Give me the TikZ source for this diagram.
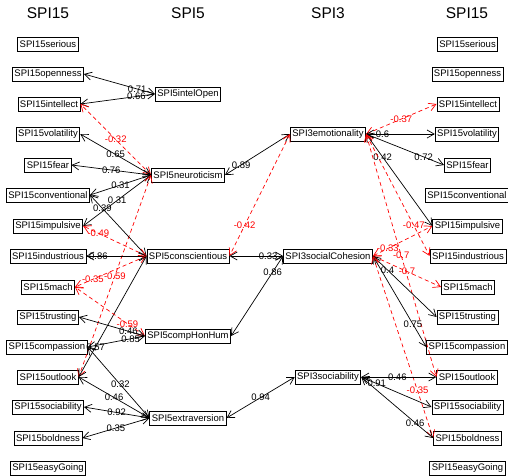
\documentclass[tikz,border=0pt]{standalone}
\usepackage{fontspec}
\setmainfont{Liberation Sans}
\usetikzlibrary{arrows.meta}

\tikzset{
  box/.style={draw, line width=0.8pt, inner xsep=2pt, inner ysep=0pt, minimum height=14pt},
  pos edge/.style={<->, line width=0.7pt},
  neg edge/.style={<->, line width=0.7pt, red, dash pattern=on 4pt off 3pt},
  lbl/.style={inner sep=0pt},
  title/.style={font=\fontsize{15.5}{18}\selectfont}
}

\begin{document}
\begin{tikzpicture}[x=1pt, y=-1pt, font=\fontsize{9.5}{11}\selectfont,
  >={Straight Barb[length=7pt,width=8pt]}]
  \useasboundingbox (0,0) rectangle (508,475);

  % Column titles
  \node[title] (t1) at (48,13) {SPI15};
  \node[title] (t2) at (188,13) {SPI5};
  \node[title] (t3) at (328,13) {SPI3};
  \node[title] (t4) at (467,13) {SPI15};

  % SPI15 (left)
  \node[box] (seriousL) at (48,44) {SPI15serious};
  \node[box] (opennessL) at (48,74) {SPI15openness};
  \node[box] (intellectL) at (49,104) {SPI15intellect};
  \node[box] (volatilityL) at (48,134) {SPI15volatility};
  \node[box] (fearL) at (48,165) {SPI15fear};
  \node[box] (conventionalL) at (48,195) {SPI15conventional};
  \node[box] (impulsiveL) at (48,226) {SPI15impulsive};
  \node[box] (industriousL) at (48,256) {SPI15industrious};
  \node[box] (machL) at (48,287) {SPI15mach};
  \node[box] (trustingL) at (48,317) {SPI15trusting};
  \node[box] (compassionL) at (47,347) {SPI15compassion};
  \node[box] (outlookL) at (48,377) {SPI15outlook};
  \node[box] (sociabilityL) at (48,407) {SPI15sociability};
  \node[box] (boldnessL) at (48,438) {SPI15boldness};
  \node[box] (easyGoingL) at (48,468) {SPI15easyGoing};

  % SPI5
  \node[box] (intel) at (188,94) {SPI5intelOpen};
  \node[box] (neuro) at (188,175) {SPI5neuroticism};
  \node[box] (consc) at (188,256) {SPI5conscientious};
  \node[box] (comp) at (188,336) {SPI5compHonHum};
  \node[box] (extra) at (188,418) {SPI5extraversion};

  % SPI3
  \node[box] (emot) at (328,134) {SPI3emotionality};
  \node[box] (socCoh) at (328,256) {SPI3socialCohesion};
  \node[box] (sociab) at (328,377) {SPI3sociability};

  % SPI15 (right)
  \node[box] (seriousR) at (467.5,44) {SPI15serious};
  \node[box] (opennessR) at (467.5,74) {SPI15openness};
  \node[box] (intellectR) at (468,104) {SPI15intellect};
  \node[box] (volatilityR) at (467,134) {SPI15volatility};
  \node[box] (fearR) at (467.5,165) {SPI15fear};
  \node[box] (conventionalR) at (467,195) {SPI15conventional};
  \node[box] (impulsiveR) at (467.5,226) {SPI15impulsive};
  \node[box] (industriousR) at (468,256) {SPI15industrious};
  \node[box] (machR) at (468,287) {SPI15mach};
  \node[box] (trustingR) at (467.5,317) {SPI15trusting};
  \node[box] (compassionR) at (467,347) {SPI15compassion};
  \node[box] (outlookR) at (467,377) {SPI15outlook};
  \node[box] (sociabilityR) at (467.5,407) {SPI15sociability};
  \node[box] (boldnessR) at (467.5,438) {SPI15boldness};
  \node[box] (easyGoingR) at (467.5,468) {SPI15easyGoing};

  % SPI5 to SPI15 (left)
  \draw[pos edge] (intel.west) -- node[lbl,pos=0.25] {0.71} (opennessL.east);
  \draw[pos edge] (intel.west) -- node[lbl,pos=0.25] {0.66} (intellectL.east);
  \draw[neg edge] (neuro.west) -- node[lbl,pos=0.5] {-0.32} (intellectL.east);
  \draw[pos edge] (neuro.west) -- node[lbl,pos=0.5] {0.65} (volatilityL.east);
  \draw[pos edge] (neuro.west) -- node[lbl,pos=0.5] {0.76} (fearL.east);
  \draw[pos edge] (neuro.west) -- node[lbl,pos=0.5] {0.31} (conventionalL.east);
  \draw[pos edge] (neuro.west) -- node[lbl,pos=0.5] {0.31} (impulsiveL.east);
  \draw[neg edge] (neuro.west) -- node[lbl,pos=0.5] {-0.59} (outlookL.east);
  \draw[pos edge] (consc.west) -- node[lbl,pos=0.78] {0.39} (conventionalL.east);
  \draw[neg edge] (consc.west) -- node[lbl,pos=0.76] {-0.49} (impulsiveL.east);
  \draw[pos edge] (consc.west) -- node[lbl,pos=0.8] {0.86} (industriousL.east);
  \draw[neg edge] (consc.west) -- node[lbl,pos=0.75] {-0.35} (machL.east);
  \draw[pos edge] (consc.west) -- node[lbl,pos=0.75] {0.57} (outlookL.east);
  \draw[neg edge] (comp.west) -- node[lbl,pos=0.25] {-0.59} (machL.east);
  \draw[pos edge] (comp.west) -- node[lbl,pos=0.25] {0.46} (trustingL.east);
  \draw[pos edge] (comp.west) -- node[lbl,pos=0.25] {0.85} (compassionL.east);
  \draw[pos edge] (extra.west) -- node[lbl,pos=0.47] {0.32} (compassionL.east);
  \draw[pos edge] (extra.west) -- node[lbl,pos=0.5] {0.46} (outlookL.east);
  \draw[pos edge] (extra.west) -- node[lbl,pos=0.5] {0.92} (sociabilityL.east);
  \draw[pos edge] (extra.west) -- node[lbl,pos=0.5] {0.35} (boldnessL.east);

  % SPI3 to SPI5
  \draw[pos edge] (emot.west) -- node[lbl,pos=0.75] {0.89} (neuro.east);
  \draw[neg edge] (emot.west) -- node[lbl,pos=0.75] {-0.42} (consc.east);
  \draw[pos edge] (socCoh.west) -- node[lbl,pos=0.28] {0.33} (consc.east);
  \draw[pos edge] (socCoh.west) -- node[lbl,pos=0.2] {0.86} (comp.east);
  \draw[pos edge] (sociab.west) -- node[lbl,pos=0.5] {0.94} (extra.east);

  % SPI3 to SPI15 (right)
  \draw[neg edge] (emot.east) -- node[lbl,pos=0.5] {-0.37} (intellectR.west);
  \draw[pos edge] (emot.east) -- node[lbl,pos=0.24] {0.6} (volatilityR.west);
  \draw[pos edge] (emot.east) -- node[lbl,pos=0.74] {0.72} (fearR.west);
  \draw[pos edge] (emot.east) -- node[lbl,pos=0.25] {0.42} (impulsiveR.west);
  \draw[neg edge] (emot.east) -- node[lbl,pos=0.75] {-0.47} (industriousR.west);
  \draw[neg edge] (emot.east) -- node[lbl,pos=0.5] {-0.7} (outlookR.west);
  \draw[neg edge] (socCoh.east) -- node[lbl,pos=0.25] {-0.33} (impulsiveR.west);
  \draw[neg edge] (socCoh.east) -- node[lbl,pos=0.5] {-0.7} (machR.west);
  \draw[pos edge] (socCoh.east) -- node[lbl,pos=0.23] {0.4} (trustingR.west);
  \draw[pos edge] (socCoh.east) -- node[lbl,pos=0.75] {0.75} (compassionR.west);
  \draw[neg edge] (socCoh.east) -- node[lbl,pos=0.74] {-0.35} (boldnessR.west);
  \draw[pos edge] (sociab.east) -- node[lbl,pos=0.48] {0.46} (outlookR.west);
  \draw[pos edge] (sociab.east) -- node[lbl,pos=0.22] {0.91} (sociabilityR.west);
  \draw[pos edge] (sociab.east) -- node[lbl,pos=0.75] {0.46} (boldnessR.west);
\end{tikzpicture}
\end{document}
